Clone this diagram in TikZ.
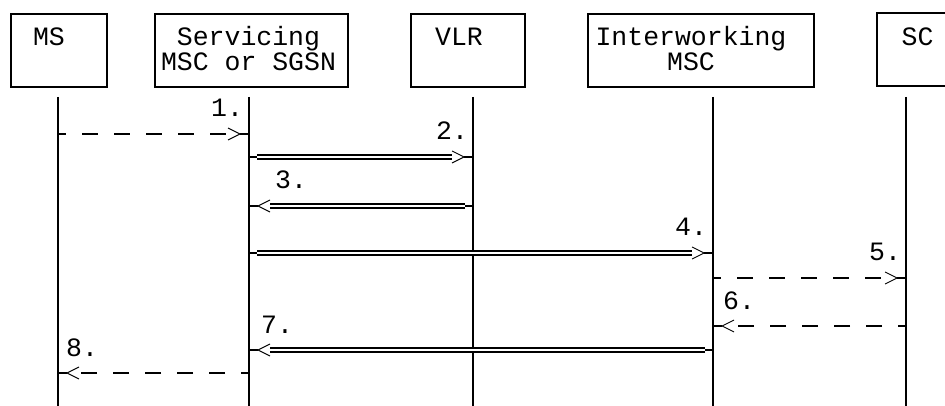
\documentclass[tikz,border=0pt]{standalone}
\usepackage{fontspec}
\setmainfont{Liberation Mono}
\usetikzlibrary{positioning}

\begin{document}
\begin{tikzpicture}[x=1pt, y=-1pt,
    box/.style={draw, line width=1.8pt, inner sep=0pt, anchor=north west},
    ent/.style={font=\fontsize{26.5}{25}\selectfont, inner sep=0pt, align=center, anchor=base},
    lbl/.style={font=\fontsize{26.5}{25}\selectfont, inner sep=0pt, anchor=base west},
    life/.style={line width=1.1pt},
    dmsg/.style={line width=2pt, dash pattern=on 16pt off 16pt, dash phase=16pt},
    wmsg/.style={double, line width=1.6pt, double distance=2.2pt},
    stub/.style={line width=2pt},
    tail/.pic={\draw[stub] (0,0) -- (8,0);},
    head/.pic={\draw[stub] (-9,0) -- (0,0);
               \draw[line width=0.9pt] (-21,-6) -- (-9,0) -- (-21,6);}]
    \useasboundingbox (0,0) rectangle (945,406);

    % Boxes
    \node[box, minimum width=96, minimum height=73] (msbox) at (10,13) {};
    \node[box, minimum width=193, minimum height=73] (svbox) at (154,13) {};
    \node[box, minimum width=114, minimum height=73] (vlrbox) at (410,13) {};
    \node[box, minimum width=226, minimum height=73] (iwbox) at (587,13) {};
    \draw[line width=1.8pt] (945,13) -| (877,86) -- (945,86);

    \node[ent] (msname) at (49,46) {MS};
    \node[ent] (svname) at (248.5,71) {Servicing\\MSC or SGSN};
    \node[ent] (vlrname) at (459,46) {VLR};
    \node[ent] (iwname) at (691,71) {Interworking\\MSC};
    \node[ent] (scname) at (917.5,46) {SC};

    % Lifelines
    \foreach \n/\x in {ms/58, sv/249, vlr/473, iw/713, sc/906} {
        \coordinate (\n) at (\x,97);
        \coordinate (\n end) at (\x,406);
        \draw[life] (\n) -- (\n end);
    }

    % Messages
    \foreach \i/\a/\b/\y/\s/\d/\lx in {1/ms/sv/134/dmsg/1/211, 2/sv/vlr/157/wmsg/1/436,
            3/vlr/sv/206/wmsg/-1/275, 4/sv/iw/253/wmsg/1/675, 5/iw/sc/278/dmsg/1/869,
            6/sc/iw/326/dmsg/-1/723, 7/iw/sv/350/wmsg/-1/261, 8/sv/ms/373/dmsg/-1/66} {
        \coordinate (m\i a) at (\a |- 0,\y);
        \coordinate (m\i b) at (\b |- 0,\y);
        \draw[\s, shorten <=8pt, shorten >=21pt] (m\i a) -- (m\i b);
        \pic[xscale=\d] at (m\i a) {tail};
        \pic[xscale=\d] at (m\i b) {head};
        \node[lbl] (l\i) at (\lx,\y-17) {\i.};
    }

\end{tikzpicture}
\end{document}
